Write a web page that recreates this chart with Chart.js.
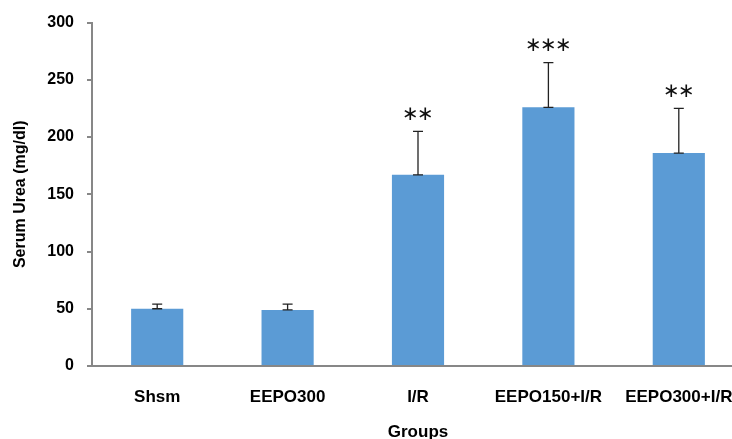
<!DOCTYPE html>
<html lang="en">
<head>
  <meta charset="UTF-8" />
  <title>Serum Urea</title>
  <script src="https://cdn.jsdelivr.net/npm/chart.js"></script>
  <style>
    html, body { margin: 0; padding: 0; background: #fff; overflow: hidden; }
    #wrap { width: 732px; height: 439px; overflow: hidden; }
  </style>
</head>
<body>
  <div id="wrap"><canvas id="chart" width="744" height="439"></canvas></div>

  <script>
    const groups = ['Shsm', 'EEPO300', 'I/R', 'EEPO150+I/R', 'EEPO300+I/R'];
    const urea = [50, 49, 167, 226, 186];
    const urea_err = [4, 5, 38, 39, 39];
    const stars = ['', '', '**', '***', '**'];
    const yTicks = [0, 50, 100, 150, 200, 250, 300];

    const axisGray = '#878787';

    // error bars (upper only) and significance stars
    const errorBars = {
      id: 'errorBars',
      afterDatasetsDraw(chart) {
        const ctx = chart.ctx;
        const y = chart.scales.y;
        const meta = chart.getDatasetMeta(0);
        ctx.save();
        meta.data.forEach((bar, i) => {
          const x = bar.x;
          const y0 = y.getPixelForValue(urea[i]);
          const y1 = y.getPixelForValue(urea[i] + urea_err[i]);
          ctx.strokeStyle = '#222';
          ctx.lineWidth = 1.3;
          ctx.beginPath();
          ctx.moveTo(x, y0); ctx.lineTo(x, y1);
          ctx.moveTo(x - 5, y1); ctx.lineTo(x + 5, y1);
          ctx.moveTo(x - 5, y0); ctx.lineTo(x + 5, y0);
          ctx.stroke();

          const n = stars[i].length;
          ctx.fillStyle = '#111';
          ctx.font = '20px "DejaVu Sans"';
          ctx.textAlign = 'center';
          ctx.textBaseline = 'middle';
          for (let k = 0; k < n; k++) {
            const sx = x + (k - (n - 1) / 2) * 15;
            ctx.fillText('\u2217', sx, y1 - 17);
          }
        });
        ctx.restore();
      }
    };

    new Chart(document.getElementById('chart').getContext('2d'), {
      type: 'bar',
      data: {
        labels: groups,
        datasets: [{
          data: urea,
          backgroundColor: '#5B9BD5',
          borderWidth: 0,
          barPercentage: 0.4,
          categoryPercentage: 1.0
        }]
      },
      options: {
        responsive: false,
        animation: false,
        layout: { padding: { top: 21, left: 0, right: 0, bottom: 0 } },
        plugins: { legend: { display: false }, tooltip: { enabled: false } },
        scales: {
          x: {
            afterFit: s => { s.height = 73; s.paddingLeft = 0; s.paddingRight = 0; },
            grid: { display: false },
            border: { display: true, color: axisGray, width: 2 },
            ticks: {
              color: '#000',
              font: { family: 'Liberation Sans', size: 17, weight: 'bold' },
              padding: 13
            },
            title: {
              display: true,
              text: 'Groups',
              color: '#000',
              font: { family: 'Liberation Sans', size: 17, weight: 'bold' },
              padding: { top: 0, bottom: -4 }
            }
          },
          y: {
            min: 0,
            max: 300,
            afterFit: s => { s.width = 92; },
            afterBuildTicks: s => { s.ticks = yTicks.map(v => ({ value: v })); },
            grid: {
              drawOnChartArea: false,
              drawTicks: true,
              tickLength: 5,
              color: axisGray,
              lineWidth: 2
            },
            border: { display: true, color: axisGray, width: 2 },
            ticks: {
              color: '#000',
              font: { family: 'Liberation Sans', size: 16, weight: 'bold' },
              padding: 13
            },
            title: {
              display: true,
              text: 'Serum Urea (mg/dl)',
              color: '#000',
              font: { family: 'Liberation Sans', size: 16, weight: 'bold' },
              padding: { top: 11, bottom: 0 }
            }
          }
        }
      },
      plugins: [errorBars]
    });
  </script>
</body>
</html>
